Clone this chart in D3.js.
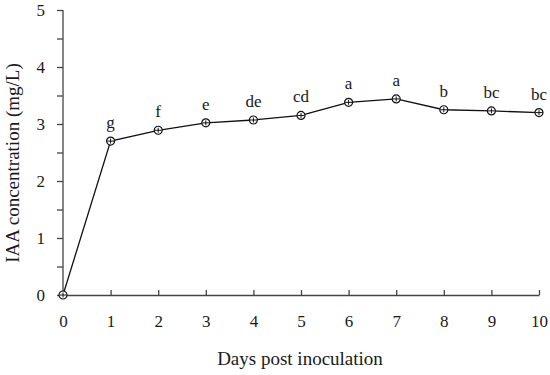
<!DOCTYPE html>
<html><head><meta charset="utf-8">
<script src="https://cdn.jsdelivr.net/npm/d3@7"></script>
<style>body{margin:0;background:#fff}</style>
</head><body>
<script>
const days = [0,1,2,3,4,5,6,7,8,9,10];
const iaa = [0,2.70,2.89,3.02,3.07,3.15,3.38,3.44,3.25,3.23,3.20];
const letters = ["","g","f","e","de","cd","a","a","b","bc","bc"];
const yTicks = [0,1,2,3,4,5];
const xTicks = [0,1,2,3,4,5,6,7,8,9,10];

const W=550,H=375;
const svg=d3.select("body").append("svg").attr("width",W).attr("height",H);
const font="'Liberation Serif','DejaVu Serif',serif";
const x=d3.scaleLinear().domain([0,10]).range([63,539]);
const y=d3.scaleLinear().domain([0,5]).range([295,10]);
const axCol="#444";
const txt="#1a1a1a";

// y axis
const ya=svg.append("g").attr("transform","translate(63,0)")
 .call(d3.axisLeft(y).tickValues(yTicks).tickFormat(d3.format("d")).tickSize(6).tickPadding(12));
const yminor=svg.append("g").attr("transform","translate(63,0)")
 .call(d3.axisLeft(y).tickValues(d3.range(0.5,5,1)).tickFormat("").tickSize(6));
yminor.select(".domain").remove();
// x axis
const xa=svg.append("g").attr("transform","translate(0,295)")
 .call(d3.axisBottom(x).tickValues(xTicks).tickFormat(d3.format("d")).tickSize(-5).tickPadding(20).tickSizeOuter(0));
[ya,yminor,xa].forEach(g=>{
  g.selectAll("path,line").attr("stroke",axCol).attr("stroke-width",1.3);
  g.selectAll("text").attr("font-family",font).attr("font-size",17).attr("fill",txt);
});
ya.select(".domain").attr("d","M0,295V10");

// line
svg.append("path").datum(days.map((d,i)=>[d,iaa[i]]))
 .attr("d",d3.line().x(d=>x(d[0])).y(d=>y(d[1])))
 .attr("fill","none").attr("stroke","#111").attr("stroke-width",1.3);

// markers
const m=svg.append("g").selectAll("g").data(days).join("g")
 .attr("transform",(d,i)=>`translate(${x(d)},${y(iaa[i])})`);
m.append("circle").attr("r",4).attr("fill","#fff").attr("stroke","#111").attr("stroke-width",1.2);
m.append("line").attr("x1",-3.5).attr("x2",3.5).attr("stroke","#111").attr("stroke-width",1);
m.append("line").attr("y1",-2.5).attr("y2",2.5).attr("stroke","#111").attr("stroke-width",1);

// letters
svg.append("g").selectAll("text").data(days).join("text")
 .attr("x",d=>x(d)).attr("y",(d,i)=>y(iaa[i])-13)
 .attr("text-anchor","middle").attr("font-family",font).attr("font-size",17).attr("fill",txt)
 .text((d,i)=>letters[i]);

// titles
svg.append("text").attr("x",300).attr("y",365).attr("text-anchor","middle")
 .attr("font-family",font).attr("font-size",19).attr("fill",txt).text("Days post inoculation");
svg.append("text").attr("transform","translate(19,163) rotate(-90)").attr("text-anchor","middle")
 .attr("font-family",font).attr("font-size",19).attr("fill",txt).text("IAA concentration (mg/L)");
</script>
</body></html>
